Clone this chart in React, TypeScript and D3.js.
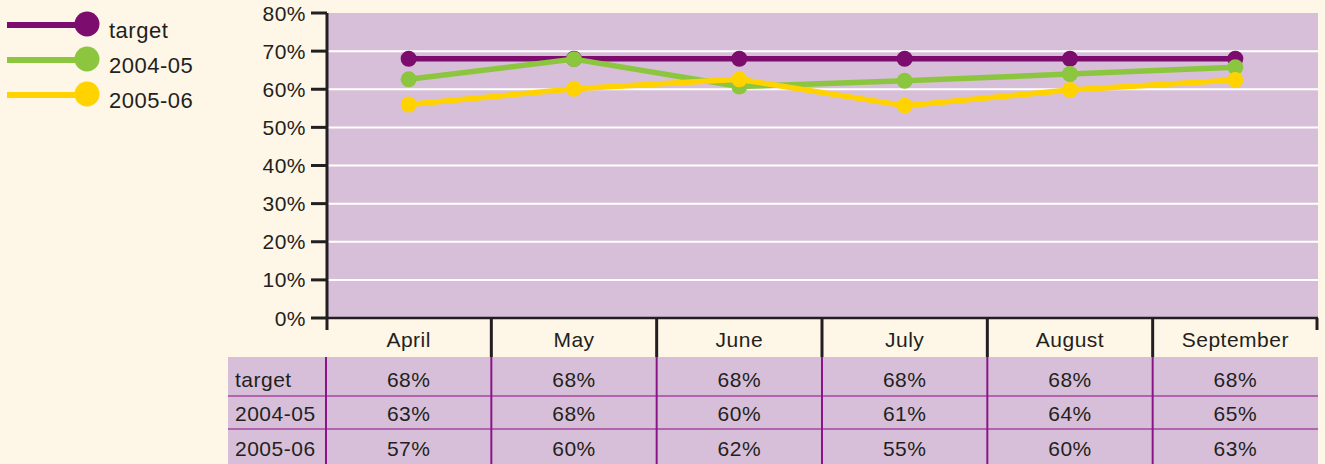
import React from "react";
import * as d3 from "d3";

const months = ["April", "May", "June", "July", "August", "September"];
const seriesNames = ["target", "2004-05", "2005-06"];
const targetValues = [68, 68, 68, 68, 68, 68];
const values0405 = [62.6, 67.9, 60.7, 62.2, 64.0, 65.8];
const values0506 = [56.0, 60.1, 62.6, 55.7, 59.8, 62.4];
const tableTarget = ["68%", "68%", "68%", "68%", "68%", "68%"];
const table0405 = ["63%", "68%", "60%", "61%", "64%", "65%"];
const table0506 = ["57%", "60%", "62%", "55%", "60%", "63%"];
const yTicks = [0, 10, 20, 30, 40, 50, 60, 70, 80];

const W = 1325;
const H = 464;
const CREAM = "#fef6e6";
const LILAC = "#d7bfd9";
const DARK = "#231f20";
const PURPLE = "#7d0c6f";
const GREEN = "#8cc63f";
const YELLOW = "#ffd200";
const colors = [PURPLE, GREEN, YELLOW];
const FONT = "'Liberation Sans', Arial, Helvetica, sans-serif";
const FS = 21;
const LS = 0.5;

export default function App() {
  const x = d3.scaleBand<string>().domain(months).range([326, 1318]);
  const y = d3.scaleLinear().domain([0, 80]).range([318, 13]);
  const cx = (m: string) => (x(m) as number) + x.bandwidth() / 2;
  const series = [targetValues, values0405, values0506];
  const tables = [tableTarget, table0405, table0506];
  const line = d3
    .line<number>()
    .x((_, i) => cx(months[i]))
    .y((d) => y(d));

  const rowCenter = [379, 413, 448];
  const legendY = [24, 59, 94];

  return (
    <svg
      width={W}
      height={H}
      style={{ position: "absolute", left: 0, top: 0, background: CREAM }}
      fontFamily={FONT}
    >
      <rect x={0} y={0} width={W} height={H} fill={CREAM} />
      {/* plot background */}
      <rect x={326} y={y(80)} width={1318 - 326} height={y(0) - y(80)} fill={LILAC} />
      {yTicks
        .filter((t) => t > 0 && t < 80)
        .map((t) => (
          <line key={t} x1={327} x2={1318} y1={y(t)} y2={y(t)} stroke="#fff" strokeWidth={2} />
        ))}
      {/* table background */}
      <rect x={228} y={357} width={1318 - 228} height={H - 357} fill={LILAC} />
      {[396, 429].map((yy) => (
        <line key={yy} x1={228} x2={1318} y1={yy} y2={yy} stroke="#a4479f" strokeWidth={1.5} />
      ))}
      {[326, ...months.slice(1).map((m) => x(m) as number)].map((xx) => (
        <line key={xx} x1={xx} x2={xx} y1={357} y2={H} stroke="#8a1587" strokeWidth={2} />
      ))}
      {/* axes */}
      <line x1={327} x2={327} y1={y(80)} y2={330} stroke={DARK} strokeWidth={3} />
      <line x1={326} x2={1318} y1={y(0)} y2={y(0)} stroke={DARK} strokeWidth={2.5} />
      <line x1={1317} x2={1317} y1={y(0)} y2={330} stroke={DARK} strokeWidth={3} />
      {months.slice(1).map((m) => (
        <line key={m} x1={x(m)} x2={x(m)} y1={y(0)} y2={357} stroke={DARK} strokeWidth={3} />
      ))}
      {yTicks.map((t) => (
        <g key={t}>
          <line x1={311} x2={327} y1={y(t)} y2={y(t)} stroke={DARK} strokeWidth={3} />
          <text
            x={306}
            y={y(t)}
            textAnchor="end"
            dominantBaseline="central"
            fontSize={FS}
            letterSpacing={LS}
            fill={DARK}
          >
            {t}%
          </text>
        </g>
      ))}
      {months.map((m) => (
        <text
          key={m}
          x={cx(m)}
          y={339}
          textAnchor="middle"
          dominantBaseline="central"
          fontSize={FS}
          letterSpacing={LS}
          fill={DARK}
        >
          {m}
        </text>
      ))}
      {/* series */}
      {series.map((vals, si) => (
        <g key={si}>
          <path d={line(vals) || ""} fill="none" stroke={colors[si]} strokeWidth={5.5} strokeLinejoin="round" />
          {vals.map((v, i) => (
            <circle key={i} cx={cx(months[i])} cy={y(v)} r={8} fill={colors[si]} />
          ))}
        </g>
      ))}
      {/* table text */}
      {tables.map((row, ri) => (
        <g key={ri}>
          <text x={235} y={rowCenter[ri]} dominantBaseline="central" fontSize={FS} letterSpacing={LS} fill={DARK}>
            {seriesNames[ri]}
          </text>
          {row.map((s, i) => (
            <text
              key={i}
              x={cx(months[i])}
              y={rowCenter[ri]}
              textAnchor="middle"
              dominantBaseline="central"
              fontSize={FS}
              letterSpacing={LS}
              fill={DARK}
            >
              {s}
            </text>
          ))}
        </g>
      ))}
      {/* legend */}
      {seriesNames.map((n, i) => (
        <g key={n}>
          <line x1={7} x2={87} y1={legendY[i] + 1} y2={legendY[i] + 1} stroke={colors[i]} strokeWidth={6} />
          <circle cx={87} cy={legendY[i]} r={12.5} fill={colors[i]} />
          <text x={109} y={legendY[i] + 6} dominantBaseline="central" fontSize={22} letterSpacing={LS} fill={DARK}>
            {n}
          </text>
        </g>
      ))}
    </svg>
  );
}
